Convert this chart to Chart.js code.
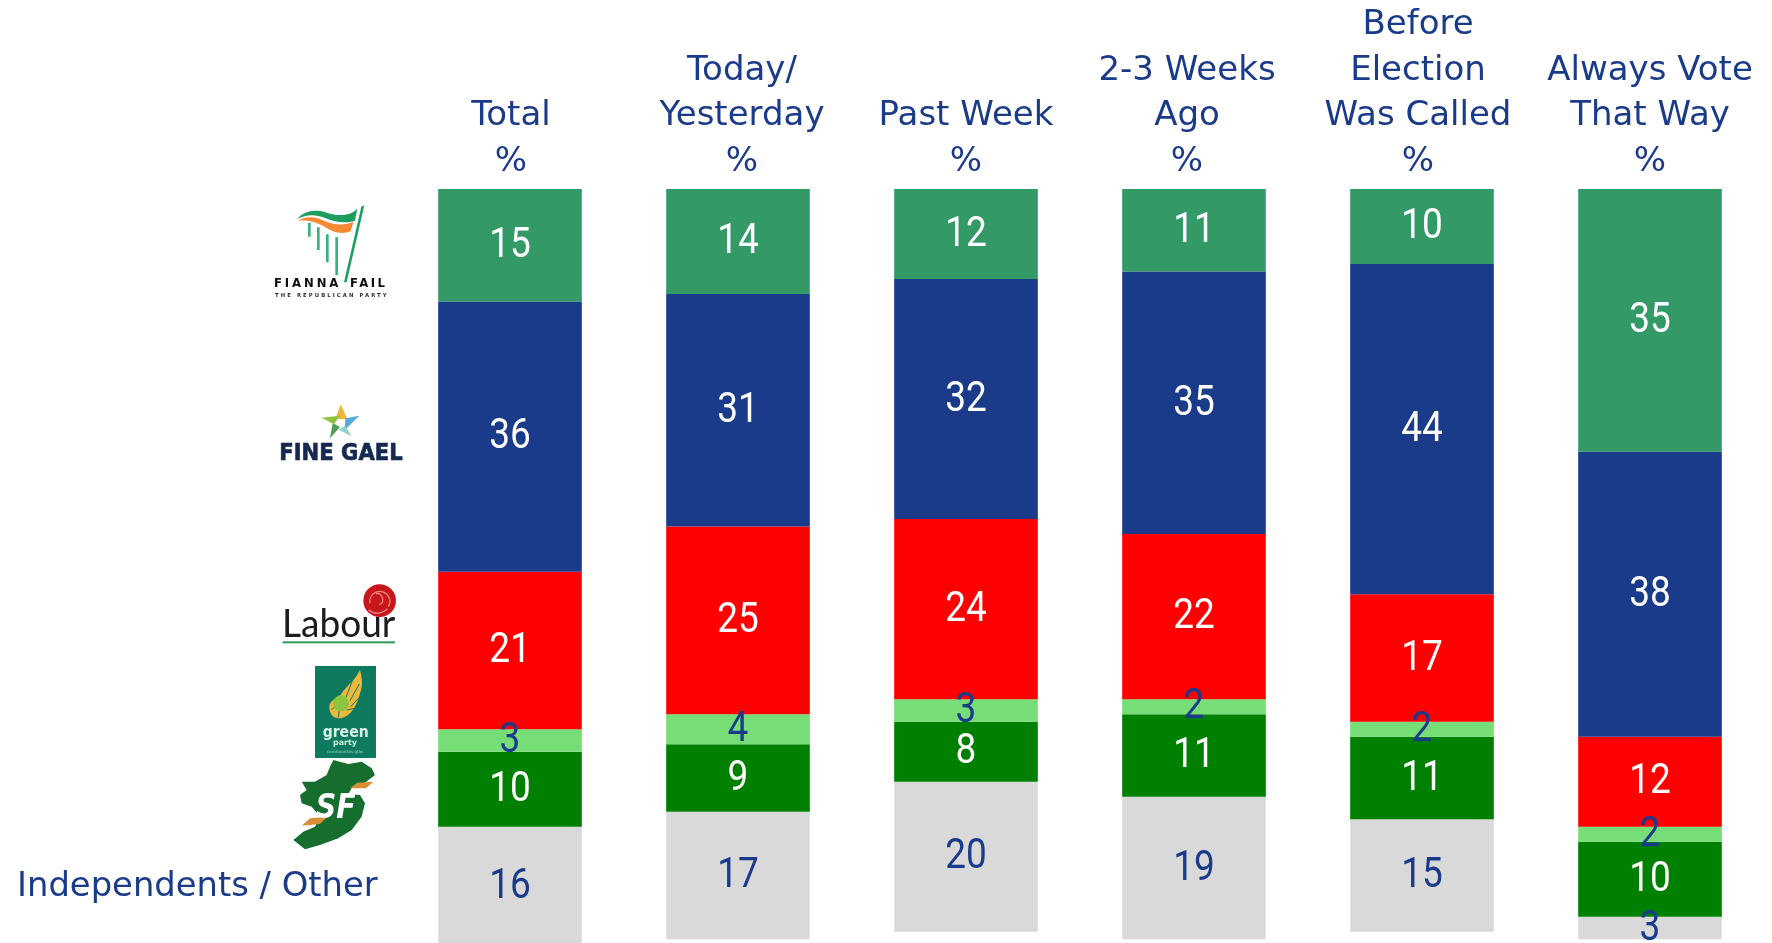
<!DOCTYPE html>
<html><head><meta charset="utf-8">
<style>html,body{margin:0;padding:0;background:#fff;overflow:hidden}#wrap{position:relative;width:1772px;height:943px}canvas{position:absolute;left:0;top:0}svg{position:absolute;left:0;top:0}</style>
<script src="https://cdn.jsdelivr.net/npm/chart.js@4"></script>
</head><body><div id="wrap"><canvas id="c" width="1772" height="943"></canvas>
<svg width="1772" height="943" viewBox="0 0 1772 943">
 <defs><filter id="b" x="-5%" y="-5%" width="110%" height="110%"><feGaussianBlur stdDeviation="0.6"/></filter></defs>
 <g filter="url(#b)">
  <!-- Fianna Fail -->
  <g transform="translate(270 200) scale(.3333)">
   <path d="M82 58 C100 32 135 26 170 38 C205 50 240 48 262 26 L255 62 C225 72 195 66 165 54 C135 42 105 44 82 58Z" fill="#1b9e5f"/>
   <path d="M84 62 C110 46 140 50 165 64 C190 76 225 76 250 66 L242 94 C210 106 185 94 160 78 C135 64 110 60 84 62Z" fill="#f58a33"/>
   <path d="M283 16 L274 20 L222 247 L230 247Z" fill="#1b9e5f"/>
   <path d="M118 68 L118 110 M145 82 L145 150 M172 103 L172 187 M200 112 L200 225" stroke="#34b37a" fill="none" stroke-width="8"/>
   <g font-family="DejaVu Sans" font-weight="bold" font-size="35" fill="#111">
    <text x="12" y="262" textLength="193" lengthAdjust="spacing">FIANNA</text>
    <text x="240" y="262" textLength="105" lengthAdjust="spacing">FAIL</text>
   </g>
   <text x="15" y="291" font-family="DejaVu Sans" font-weight="bold" font-size="16" textLength="335" lengthAdjust="spacing" fill="#333">THE REPUBLICAN PARTY</text>
  </g>
  <!-- Fine Gael -->
  <g transform="translate(270 395) scale(.3333)">
   <path d="M212 28 L196 72 L232 72Z" fill="#efb637"/>
   <path d="M268 62 L226 70 L224 106Z" fill="#58a9dc"/>
   <path d="M244 124 L206 104 L226 92Z" fill="#8fd0d0"/>
   <path d="M180 130 L188 84 L210 96Z" fill="#4f9f57"/>
   <path d="M155 68 L210 62 L192 88Z" fill="#8cc441"/>
   <text x="28" y="195" font-family="DejaVu Sans" font-weight="bold" font-size="68" textLength="370" lengthAdjust="spacingAndGlyphs" fill="#13294f" stroke="#13294f" stroke-width="2">FINE GAEL</text>
  </g>
  <!-- Labour -->
  <g transform="translate(270 580) scale(.3333)">
   <circle cx="329" cy="62" r="49" fill="#c8161d"/>
   <path d="M300 70 a30 30 0 1 1 55 10 M318 42 a12 12 0 0 1 18 10 a14 14 0 0 1 -8 22 M296 90 a40 40 0 0 0 56 -4" stroke="#ee8a80" fill="none" stroke-width="4"/>
   <text x="36" y="172" font-family="Lato" font-size="118" textLength="340" lengthAdjust="spacingAndGlyphs" fill="#1a1a1a">Labour</text>
   <rect x="38" y="184" width="337" height="6" fill="#2f9b55"/>
  </g>
  <!-- Green party and Sinn Fein -->
  <g transform="translate(270 660) scale(.3333)">
   <rect x="135" y="18" width="183" height="276" fill="#0b7a5e"/>
   <path d="M212 105 C225 80 250 70 270 30 C276 55 280 75 270 100 C264 125 250 160 225 170 C200 182 180 170 178 145 C176 125 195 115 212 105Z" fill="#ecb73c"/>
   <path d="M248 60 L228 112 M268 72 L240 122 M272 108 L242 140 M255 145 L230 150 M205 172 L208 150 M185 150 L196 138" stroke="#0b7a5e" stroke-width="3" fill="none"/>
   <circle cx="213" cy="130" r="24" fill="#8cc63f"/>
   <text x="227" y="232" text-anchor="middle" font-family="DejaVu Sans" font-weight="bold" font-size="46" textLength="138" lengthAdjust="spacingAndGlyphs" fill="#d9efe6">green</text>
   <text x="225" y="256" text-anchor="middle" font-family="DejaVu Sans" font-weight="bold" font-size="24" fill="#cfe9de">party</text>
   <text x="225" y="279" text-anchor="middle" font-family="DejaVu Sans" font-size="12" textLength="110" lengthAdjust="spacingAndGlyphs" fill="#9fd2c0">comhaontas glas</text>
   <path d="M190 300 L235 312 L275 305 L305 325 L315 345 L285 368 L245 385 L235 402 L270 405 L285 430 L275 470 L245 510 L205 535 L150 555 L105 568 L70 540 L100 515 L135 500 L150 470 L125 440 L95 430 L90 405 L110 390 L95 365 L135 365 L170 345 L180 320Z" fill="#136e2f"/>
   <path d="M95 497 L120 475 L172 470 L150 492Z M240 385 L262 368 L310 365 L288 385Z" fill="#d98f34"/>
   <text x="197" y="475" text-anchor="middle" font-family="DejaVu Sans" font-weight="bold" font-style="italic" font-size="100" textLength="120" lengthAdjust="spacingAndGlyphs" fill="#fff">SF</text>
  </g>
 </g>
</svg></div>
<script>
const categories = [["Total","%"],["Today/","Yesterday","%"],["Past Week","%"],["2-3 Weeks","Ago","%"],["Before","Election","Was Called","%"],["Always Vote","That Way","%"]];
const fiannaFail = [15,14,12,11,10,35];
const fineGael = [36,31,32,35,44,38];
const labour = [21,25,24,22,17,12];
const greenParty = [3,4,3,2,2,2];
const sinnFein = [10,9,8,11,11,10];
const independents = [16,17,20,19,15,3];
const otherLabel = "Independents / Other";
const headerNudge = [1,4,0,-7,-4,0];
const NAVY = "#1A3A8A";
const HEAD_FONT = "'DejaVu Sans'";

const headerShift = {
  id: "headerShift",
  beforeDraw(chart) {
    const s = chart.scales.x;
    s.getLabelItems(chart.chartArea).forEach((item, i) => {
      if (item.options && !item.options._nudged) {
        item.options.translation = [item.options.translation[0] + headerNudge[i], item.options.translation[1]];
        item.options._nudged = true;
      }
    });
  }
};

const segmentLabels = {
  id: "segmentLabels",
  afterDatasetsDraw(chart) {
    const ctx = chart.ctx;
    ctx.save();
    ctx.textBaseline = "middle";
    ctx.textAlign = "center";
    ctx.font = "400 43px Roboto";
    chart.data.datasets.forEach((ds, i) => {
      ctx.fillStyle = ds.labelColor;
      chart.getDatasetMeta(i).data.forEach((bar, j) => {
        const p = bar.getCenterPoint();
        ctx.save();
        ctx.translate(p.x, p.y + 1);
        ctx.scale(0.86, 1);
        ctx.fillText(String(ds.data[j]), 0, 0);
        ctx.restore();
      });
    });
    ctx.font = "33.8px " + HEAD_FONT;
    ctx.fillStyle = NAVY;
    ctx.textAlign = "left";
    ctx.fillText(otherLabel, 17, 887);
    ctx.restore();
  }
};

new Chart(document.getElementById("c"), {
  type: "bar",
  data: {
    labels: categories,
    datasets: [
      {label:"Fianna Fail", data:fiannaFail, backgroundColor:"#339966", labelColor:"#fff"},
      {label:"Fine Gael", data:fineGael, backgroundColor:"#1A3A8A", labelColor:"#fff"},
      {label:"Labour", data:labour, backgroundColor:"#FF0000", labelColor:"#fff"},
      {label:"Green Party", data:greenParty, backgroundColor:"#77DD77", labelColor:NAVY},
      {label:"Sinn Fein", data:sinnFein, backgroundColor:"#008000", labelColor:"#fff"},
      {label:"Independents / Other", data:independents, backgroundColor:"#D9D9D9", labelColor:NAVY}
    ]
  },
  options: {
    responsive: false,
    animation: false,
    layout: {padding: {left: 396, right: 8, top: 0, bottom: 0}},
    plugins: {legend: {display: false}, tooltip: {enabled: false}},
    datasets: {bar: {barPercentage: 0.63, categoryPercentage: 1, borderWidth: 0}},
    scales: {
      x: {
        position: "top", stacked: true,
        grid: {display: false, drawTicks: false}, border: {display: false},
        ticks: {color: NAVY, font: {family: HEAD_FONT, size: 34, lineHeight: 1.345}, padding: 4, maxRotation: 0, autoSkip: false},
        afterFit(s) { s.height = 189; }
      },
      y: {stacked: true, reverse: true, min: 0, max: 100.5, display: false}
    }
  },
  plugins: [headerShift, segmentLabels]
});
</script></body></html>
